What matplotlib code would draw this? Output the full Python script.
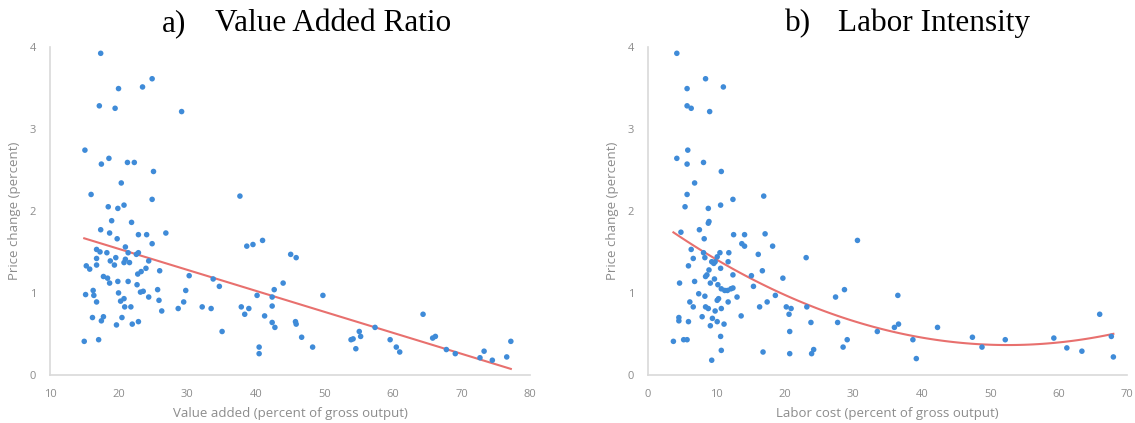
import matplotlib
matplotlib.use('Agg')
import matplotlib.pyplot as plt
import numpy as np

# a) value added (percent of gross output) vs price change (percent)
va_x = [17.4, 24.9, 20.0, 23.5, 17.2, 19.5, 29.2, 15.1, 18.6, 17.5, 21.3, 22.3, 25.1, 20.4,
        16.0, 37.7, 24.9, 18.5, 19.9, 20.8, 19.0, 21.9, 17.4, 18.7, 19.8, 22.9, 24.1, 26.9,
        24.9, 21.0, 16.8, 17.3, 18.3, 21.4, 22.9, 22.6, 15.3, 15.8, 16.8, 16.8, 18.8, 19.4,
        19.6, 20.8, 21.0, 21.6, 24.4, 24.0, 23.3, 22.8, 26.0, 30.3, 33.8, 17.8, 18.4, 18.7,
        19.9, 21.4, 22.7, 34.7, 25.7, 29.8, 23.2, 23.6, 16.3, 16.4, 15.2, 20.0, 24.4, 20.8,
        20.3, 16.8, 25.9, 29.5, 20.9, 21.8, 28.7, 32.2, 33.5, 26.3, 37.9, 39.0, 38.4, 16.2,
        17.8, 17.5, 20.5, 22.9, 22.0, 19.7, 35.1, 15.0, 17.1, 40.5, 40.5, 41.0, 38.7, 39.6,
        42.7, 40.2, 42.4, 42.4, 41.3, 42.4, 42.8, 45.1, 45.9, 44.0, 49.8, 45.8, 45.9, 46.7,
        48.3, 64.4, 53.9, 54.2, 55.1, 55.3, 54.6, 57.4, 59.6, 60.5, 61.0, 65.8, 66.2, 67.8,
        69.1, 72.7, 73.3, 74.5, 76.6, 77.2]
va_y = [3.92, 3.61, 3.49, 3.51, 3.28, 3.25, 3.21, 2.74, 2.64, 2.57, 2.59, 2.59, 2.48, 2.34,
        2.20, 2.18, 2.14, 2.05, 2.03, 2.07, 1.88, 1.86, 1.77, 1.73, 1.66, 1.71, 1.71, 1.73,
        1.60, 1.56, 1.53, 1.50, 1.49, 1.49, 1.49, 1.47, 1.33, 1.29, 1.34, 1.42, 1.39, 1.34,
        1.43, 1.37, 1.41, 1.37, 1.39, 1.30, 1.26, 1.23, 1.27, 1.21, 1.17, 1.20, 1.18, 1.12,
        1.14, 1.14, 1.10, 1.08, 1.04, 1.03, 1.01, 1.02, 1.03, 0.97, 0.98, 1.00, 0.95, 0.93,
        0.90, 0.89, 0.91, 0.89, 0.83, 0.83, 0.81, 0.83, 0.81, 0.78, 0.83, 0.81, 0.74, 0.70,
        0.71, 0.66, 0.70, 0.65, 0.62, 0.61, 0.53, 0.41, 0.43, 0.34, 0.26, 1.64, 1.57, 1.59,
        1.04, 0.97, 0.95, 0.84, 0.72, 0.64, 0.58, 1.47, 1.43, 1.12, 0.97, 0.65, 0.62, 0.46,
        0.34, 0.74, 0.43, 0.44, 0.53, 0.47, 0.32, 0.58, 0.43, 0.34, 0.28, 0.45, 0.47, 0.31,
        0.26, 0.21, 0.29, 0.18, 0.22, 0.41]

# b) labor cost (percent of gross output) vs price change (percent)
lc_x = [4.2, 8.4, 5.7, 11.0, 5.7, 6.3, 9.0, 5.8, 4.2, 5.7, 8.1, 10.7, 6.8, 5.7, 16.9, 12.4,
        5.4, 8.8, 10.6, 8.9, 8.8, 7.5, 4.8, 8.2, 12.5, 14.1, 17.1, 13.7, 14.1, 18.2, 30.6,
        6.3, 8.1, 10.5, 11.8, 16.1, 23.1, 6.6, 8.3, 10.1, 9.3, 9.6, 9.8, 11.7, 5.9, 10.6,
        8.9, 16.7, 8.6, 8.4, 12.4, 15.1, 19.7, 9.7, 6.8, 9.1, 4.6, 10.2, 15.4, 10.7, 11.2,
        11.6, 12.1, 12.4, 28.7, 27.4, 7.4, 8.3, 13.0, 18.6, 10.3, 10.1, 11.7, 6.1, 17.4,
        6.6, 8.4, 8.8, 10.7, 16.3, 20.2, 20.9, 23.2, 9.8, 20.6, 7.9, 4.5, 13.6, 9.4, 4.5,
        5.9, 10.1, 23.8, 27.7, 9.1, 11.1, 20.7, 10.6, 29.1, 3.7, 5.2, 5.7, 28.5, 10.7, 16.8,
        20.7, 24.2, 23.9, 9.3, 36.5, 36.6, 36.0, 33.5, 38.7, 39.2, 42.3, 47.4, 48.8, 52.2,
        59.3, 61.2, 63.4, 66.0, 67.7, 68.0]
lc_y = [3.92, 3.61, 3.49, 3.51, 3.28, 3.25, 3.21, 2.74, 2.64, 2.57, 2.59, 2.48, 2.34, 2.20,
        2.18, 2.14, 2.05, 2.03, 2.07, 1.87, 1.85, 1.77, 1.74, 1.66, 1.71, 1.71, 1.72, 1.60,
        1.57, 1.57, 1.64, 1.53, 1.49, 1.49, 1.49, 1.47, 1.43, 1.42, 1.43, 1.44, 1.38, 1.36,
        1.38, 1.38, 1.33, 1.30, 1.28, 1.27, 1.22, 1.20, 1.22, 1.21, 1.18, 1.17, 1.14, 1.12,
        1.12, 1.10, 1.08, 1.05, 1.03, 1.03, 1.05, 1.06, 1.04, 0.95, 0.99, 0.96, 0.95, 0.97,
        0.93, 0.91, 0.89, 0.89, 0.89, 0.83, 0.83, 0.81, 0.81, 0.83, 0.83, 0.81, 0.83, 0.78,
        0.74, 0.71, 0.70, 0.72, 0.69, 0.66, 0.65, 0.65, 0.64, 0.64, 0.60, 0.62, 0.53, 0.47,
        0.43, 0.41, 0.43, 0.43, 0.34, 0.30, 0.28, 0.26, 0.31, 0.26, 0.18, 0.97, 0.62, 0.58,
        0.53, 0.43, 0.20, 0.58, 0.46, 0.34, 0.43, 0.45, 0.33, 0.29, 0.74, 0.47, 0.22]

DOT = '#3F8BD8'
LINE = '#E8706E'
GREY = '#8C8C8C'
SANS = ['Open Sans', 'DejaVu Sans']

fig = plt.figure(figsize=(11.35, 4.23), dpi=100)
ax1 = fig.add_axes([0.044, 0.1135, 0.423, 0.776])
ax2 = fig.add_axes([0.571, 0.1135, 0.422, 0.776])


def style(ax, xlim, xticks, xlabel):
    ax.set_xlim(*xlim)
    ax.set_ylim(0, 4)
    ax.set_xticks(xticks)
    ax.set_yticks([0, 1, 2, 3, 4])
    for s in ['top', 'right']:
        ax.spines[s].set_visible(False)
    for s in ['left', 'bottom']:
        ax.spines[s].set_color('#D9D9D9')
        ax.spines[s].set_linewidth(1.2)
    ax.tick_params(length=0, pad=10, labelsize=8, labelcolor=GREY)
    for t in ax.get_xticklabels() + ax.get_yticklabels():
        t.set_family(SANS)
    ax.set_xlabel(xlabel, color=GREY, fontsize=9.5, family=SANS, labelpad=5)
    ax.set_ylabel('Price change (percent)', color=GREY, fontsize=9.5, family=SANS, labelpad=6)


# panel a, linear trend
ax1.scatter(va_x, va_y, s=16, color=DOT, edgecolors='none', zorder=3)
p1 = np.polyfit(va_x, va_y, 1)
xs1 = np.linspace(min(va_x), max(va_x), 100)
ax1.plot(xs1, np.polyval(p1, xs1), color=LINE, lw=1.5, zorder=2)
style(ax1, (10, 80), range(10, 81, 10), 'Value added (percent of gross output)')

# panel b, quadratic trend
ax2.scatter(lc_x, lc_y, s=16, color=DOT, edgecolors='none', zorder=3)
p2 = np.polyfit(lc_x, lc_y, 2)
xs2 = np.linspace(min(lc_x), max(lc_x), 100)
ax2.plot(xs2, np.polyval(p2, xs2), color=LINE, lw=1.5, zorder=2)
style(ax2, (0, 70), range(0, 71, 10), 'Labor cost (percent of gross output)')

ty = 1 - 31 / 423
fig.text(162 / 1135, ty, 'a)', va='baseline', family='Liberation Serif', fontsize=22.5)
fig.text(215 / 1135, ty, 'Value Added Ratio', va='baseline', family='Liberation Serif', fontsize=22.5)
fig.text(785 / 1135, ty, 'b)', va='baseline', family='Liberation Serif', fontsize=22.5)
fig.text(838 / 1135, ty, 'Labor Intensity', va='baseline', family='Liberation Serif', fontsize=22.5)

fig.savefig('out.png', dpi=100)
